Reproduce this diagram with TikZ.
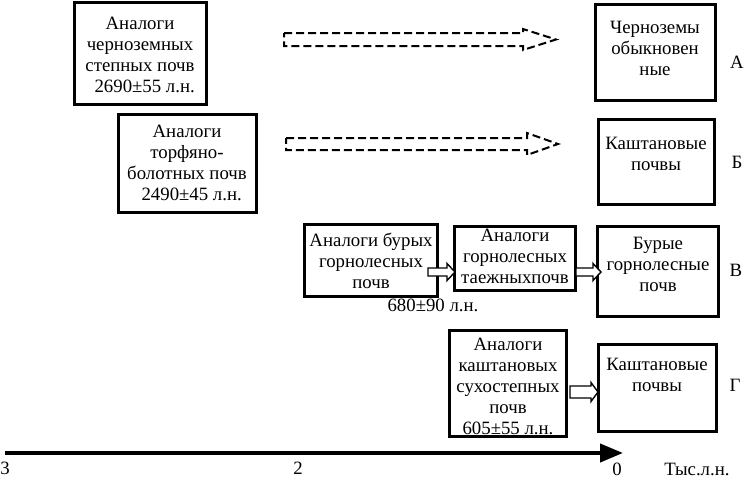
\documentclass[tikz,border=0pt]{standalone}
\usepackage{fontspec}
\setmainfont{Liberation Serif}
\usetikzlibrary{arrows.meta,calc}
\tikzset{
  box/.style={draw,line width=3pt,rectangle,inner sep=0pt},
  txt/.style={align=center,inner sep=0pt,font=\fontsize{18.8}{21}\selectfont},
  lbl/.style={inner sep=0pt,font=\fontsize{18.8}{21}\selectfont},
  hollow/.style={draw,line width=1.4pt,fill=white},
  dasharrow/.style={draw,line width=2pt,dash pattern=on 8pt off 4pt},
}
\newcommand\harrow[6]{% from, to, shaft half, head half, head length, style
  \path[#6] let \p1=(#1), \p2=(#2) in
    (\x1,\y1+#3) -- (\x2-#5,\y1+#3) -- (\x2-#5,\y1+#4) -- (\x2,\y1)
    -- (\x2-#5,\y1-#4) -- (\x2-#5,\y1-#3) -- (\x1,\y1-#3) -- cycle;}
\begin{document}
\begin{tikzpicture}[x=1pt,y=-1pt]
\useasboundingbox (0,0) rectangle (744,479);
% boxes
\node[box,minimum width=132pt,minimum height=102pt] (LA) at (140,53) {};
\node[box,minimum width=138pt,minimum height=98pt] (LB) at (187,163) {};
\node[box,minimum width=120pt,minimum height=96pt] (RA) at (655.5,52.5) {};
\node[box,minimum width=116pt,minimum height=85pt] (RB) at (656.5,162) {};
\node[box,minimum width=133pt,minimum height=72pt] (V1) at (371,260.5) {};
\node[box,minimum width=121pt,minimum height=64pt] (V2) at (515,258.5) {};
\node[box,minimum width=121pt,minimum height=90pt] (V3) at (658,271.5) {};
\node[box,minimum width=117pt,minimum height=106pt] (G1) at (508,383.5) {};
\node[box,minimum width=118pt,minimum height=87pt] (G2) at (657.5,388) {};
% texts
\node[txt] (tLA) at (140,55) {Аналоги\\черноземных\\степных почв\\\ \ 2690±55 л.н.};
\node[txt] (tLB) at (187,163) {Аналоги\\торфяно-\\болотных почв\\\ \ 2490±45 л.н.};
\node[txt] (tRA) at (655,48) {Черноземы\\обыкновен\\ные};
\node[txt] (tRB) at (656,154) {Каштановые\\почвы};
\node[txt] (tV1) at (371,261) {Аналоги бурых\\горнолесных\\почв};
\node[txt] (tV2) at (515,256) {Аналоги\\горнолесных\\таежныхпочв};
\node[txt] (tV3) at (658,264) {Бурые\\горнолесные\\почв};
\node[txt] (tG1) at (508,386) {Аналоги\\каштановых\\сухостепных\\почв\\605±55 л.н.};
\node[txt] (tG2) at (657,375) {Каштановые\\почвы};
\node[lbl] (d680) at (433,305) {680±90 л.н.};
% row labels
\node[lbl] (lA) at (737,62) {А};
\node[lbl] (lB) at (737,162) {Б};
\node[lbl] (lV) at (736,270) {В};
\node[lbl] (lG) at (735,385) {Г};
% hollow arrows
\coordinate (a1s) at ($(V1.east)+(-11,11.5)$);
\coordinate (a1e) at ($(V2.west)+(2,11.5)$);
\harrow{a1s}{a1e}{4pt}{8.5pt}{8pt}{hollow}
\coordinate (a2s) at ($(V2.east)+(-1,13.5)$);
\coordinate (a2e) at ($(V3.west)+(5,0.5)$);
\harrow{a2s}{a2e}{4pt}{8.5pt}{8pt}{hollow}
\coordinate (a3s) at ($(G1.east)+(2,8.5)$);
\coordinate (a3e) at ($(G2.west)+(1,4)$);
\harrow{a3s}{a3e}{6pt}{9.5pt}{7pt}{hollow}
% dashed arrows
\coordinate (d1s) at (284,39.5);
\coordinate (d1e) at (556,39.5);
\harrow{d1s}{d1e}{6.5pt}{10.5pt}{33pt}{dasharrow}
\coordinate (d2s) at (286,144);
\coordinate (d2e) at (558,144);
\harrow{d2s}{d2e}{6pt}{11pt}{31pt}{dasharrow}
% time axis
\coordinate (axs) at (5,453);
\coordinate (axe) at (623,453);
\draw[line width=4pt,-{Triangle[length=23pt,width=18pt]}] (axs) -- (axe);
\node[lbl] (t3) at (5,468) {3};
\node[lbl] (t2) at (298,468) {2};
\node[lbl] (t0) at (617,469) {0};
\node[lbl] (tu) at (697,469) {Тыс.л.н.};
\end{tikzpicture}
\end{document}
